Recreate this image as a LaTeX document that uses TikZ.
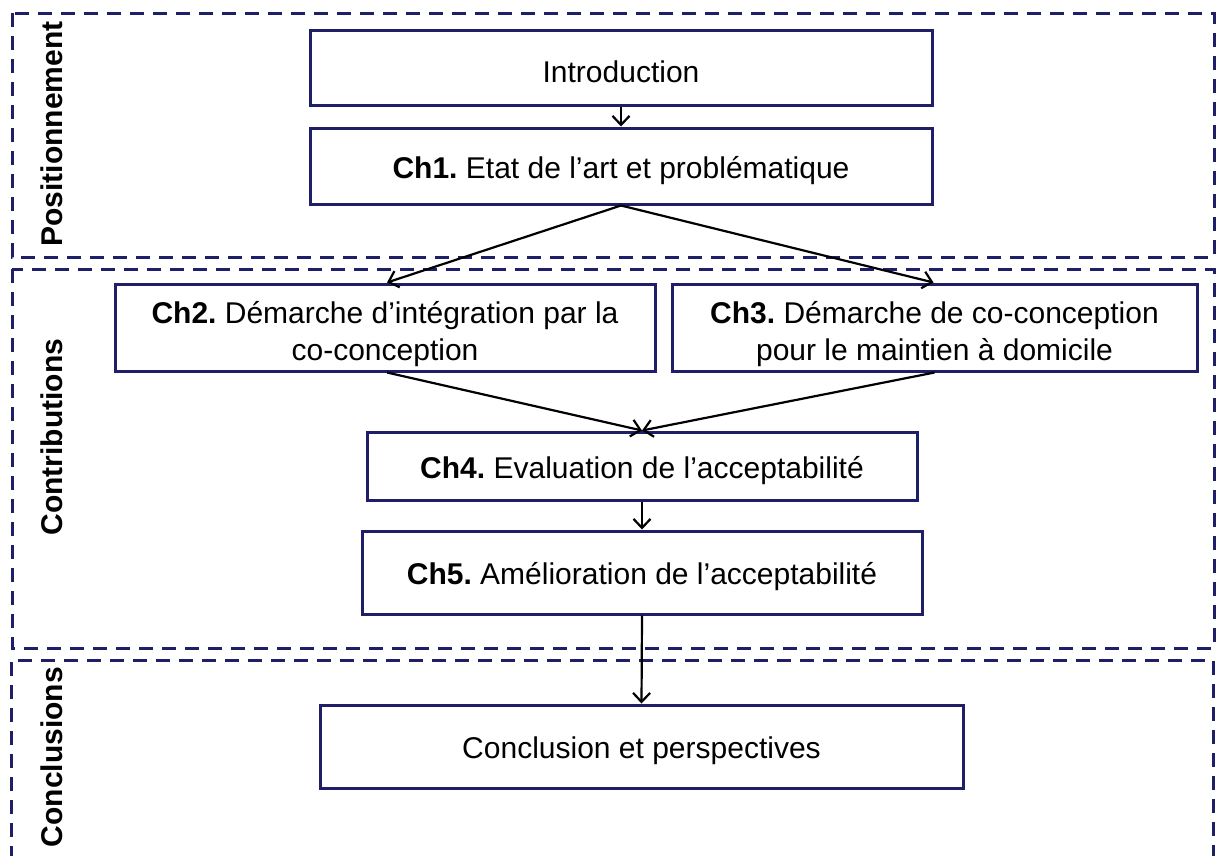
\documentclass[tikz,border=0pt]{standalone}
\usepackage{fontspec}
\setmainfont{Liberation Sans}
\usetikzlibrary{arrows.meta}
\definecolor{navy}{RGB}{30,30,105}
\begin{document}
\begin{tikzpicture}[x=1pt,y=-1pt,
  frame/.style={draw=navy,line width=3pt,dash pattern=on 14pt off 9pt},
  chapbox/.style={draw=navy,line width=3pt,fill=white,inner sep=0pt},
  chaptext/.style={align=center,inner sep=0pt,font=\fontsize{30}{37.5}\selectfont\frenchspacing},
  one/.style={label={[chaptext,yshift=-4.5pt]center:#1}},
  two/.style={label={[chaptext,yshift=-6.5pt]center:#1}},
  sidelabel/.style={rotate=90,font=\fontsize{30}{34}\selectfont\bfseries,inner sep=0pt},
  link/.style={draw=black,line width=2.2pt,-{Straight Barb[length=9pt,width=17pt,line width=2.2pt]}}]
\useasboundingbox (0,0) rectangle (1217,855);
% frames
\draw[frame] (12,13) rectangle (1214,257);
\draw[frame] (12,269) rectangle (1214,648);
\draw[frame] (11,860) -- (11,660) -- (1213,660) -- (1213,860);
% side labels
\node[sidelabel] (lpos) at (52,134) {Positionnement};
\node[sidelabel] (lcon) at (52,437) {Contributions};
\node[sidelabel] (lcl) at (52,757) {Conclusions};
% boxes
\node[chapbox,minimum width=622pt,minimum height=75pt,one={Introduction}] (intro) at (621,67.5) {};
\node[chapbox,minimum width=622pt,minimum height=76pt,one={\textbf{Ch1.} Etat de l’art et problématique}] (ch1) at (621,166) {};
\node[chapbox,minimum width=540pt,minimum height=87pt,two={\textbf{Ch2.} Démarche d’intégration par la\\co-conception}] (ch2) at (385,327.5) {};
\node[chapbox,minimum width=525pt,minimum height=87pt,two={\textbf{Ch3.} Démarche de co-conception\\pour le maintien à domicile}] (ch3) at (934.5,327.5) {};
\node[chapbox,minimum width=550pt,minimum height=68pt,one={\textbf{Ch4.} Evaluation de l’acceptabilité}] (ch4) at (642,466) {};
\node[chapbox,minimum width=560pt,minimum height=83pt,one={\textbf{Ch5.} Amélioration de l’acceptabilité}] (ch5) at (642,572.5) {};
\node[chapbox,minimum width=643pt,minimum height=83pt,one={Conclusion et perspectives}] (concl) at (641.5,746.5) {};
% connectors
\draw[link] (intro.south) -- (ch1.north);
\draw[link] (ch1.south) -- ([xshift=2pt]ch2.north);
\draw[link] (ch1.south) -- ([xshift=-1pt]ch3.north);
\draw[link] ([xshift=2pt]ch2.south) -- (ch4.north);
\draw[link] (ch3.south) -- (ch4.north);
\draw[link] (ch4.south) -- (ch5.north);
\draw[link] (ch5.south) -- (concl.north);
\end{tikzpicture}
\end{document}
